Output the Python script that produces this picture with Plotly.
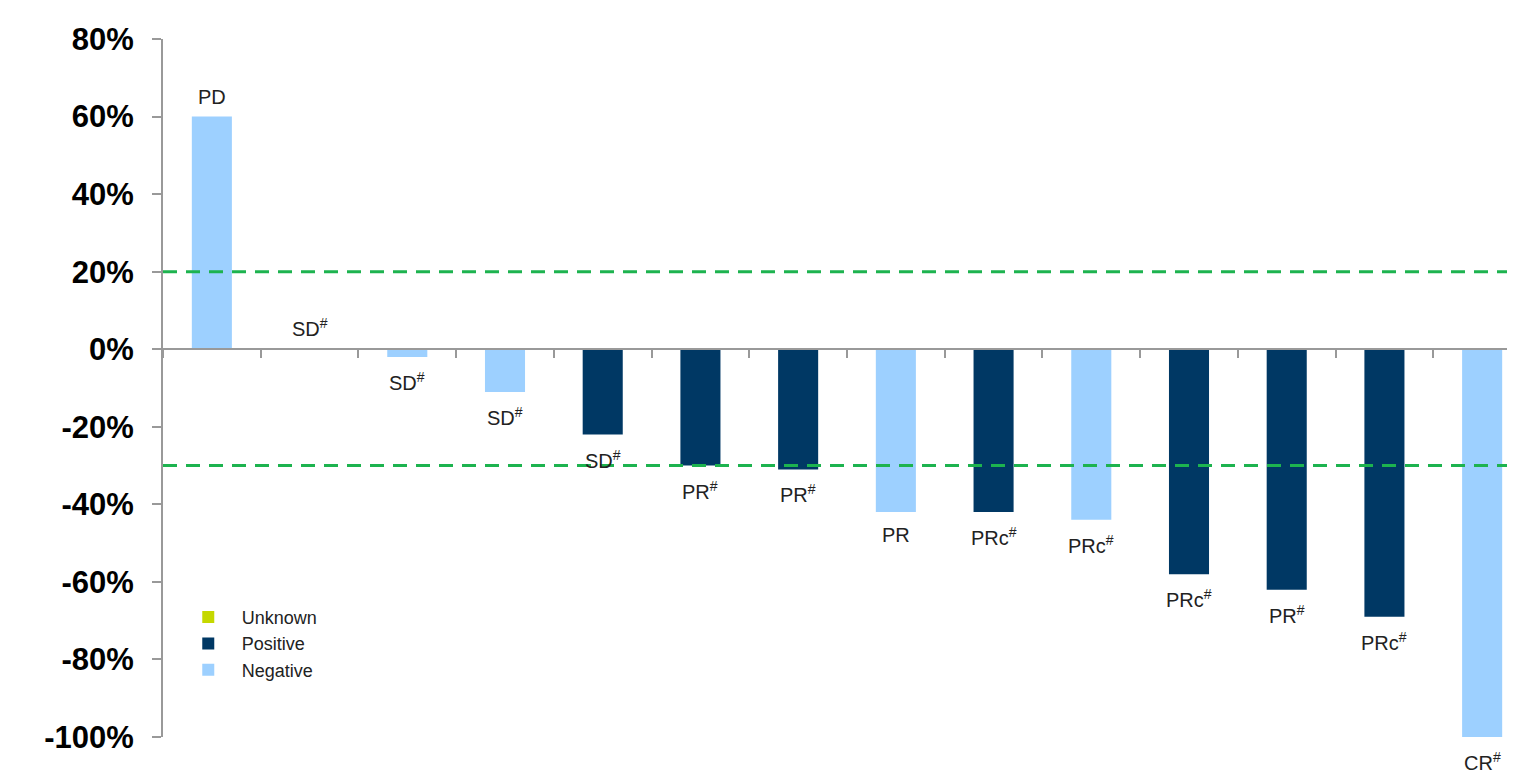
import plotly.graph_objects as go

patients = [f"P{i}" for i in range(1, 15)]
change = [60, 0, -2, -11, -22, -30, -31, -42, -42, -44, -58, -62, -69, -100]
status = ["Negative", "Unknown", "Negative", "Negative", "Positive", "Positive", "Positive",
          "Negative", "Positive", "Negative", "Positive", "Positive", "Positive", "Negative"]
response = ["PD", "SD<sup>#</sup>", "SD<sup>#</sup>", "SD<sup>#</sup>", "SD<sup>#</sup>",
            "PR<sup>#</sup>", "PR<sup>#</sup>", "PR", "PRc<sup>#</sup>", "PRc<sup>#</sup>",
            "PRc<sup>#</sup>", "PR<sup>#</sup>", "PRc<sup>#</sup>", "CR<sup>#</sup>"]
thresholds = [20, -30]
y_ticks = [-100, -80, -60, -40, -20, 0, 20, 40, 60, 80]
y_ticktext = [f"{v}%" for v in y_ticks]

colors = {"Unknown": "#C5D800", "Positive": "#003864", "Negative": "#9DD0FF"}
FONT = "Liberation Sans, Arial, sans-serif"

fig = go.Figure()
for grp in ["Unknown", "Positive", "Negative"]:
    xs = [p for p, s in zip(patients, status) if s == grp]
    ys = [v for v, s in zip(change, status) if s == grp]
    fig.add_trace(go.Bar(x=xs, y=ys, name=grp, width=0.41,
                         marker=dict(color=colors[grp], line=dict(width=0)),
                         showlegend=True))

for p, v, r in zip(patients, change, response):
    if v >= 0:
        fig.add_annotation(x=p, y=v, text=r, showarrow=False, yanchor="bottom", yshift=7,
                           font=dict(family=FONT, size=20, color="#222222"))
    else:
        fig.add_annotation(x=p, y=v, text=r, showarrow=False, yanchor="top", yshift=-10,
                           font=dict(family=FONT, size=20, color="#222222"))

for t in thresholds:
    fig.add_shape(type="line", xref="paper", x0=0, x1=1, y0=t, y1=t, yref="y",
                  line=dict(color="#1DB34F", width=3, dash="14px,9px"), layer="above")

fig.update_layout(
    width=1523, height=773,
    margin=dict(l=155, r=0, t=31, b=44, autoexpand=False),
    paper_bgcolor="white", plot_bgcolor="white",
    barmode="overlay",
    font=dict(family=FONT, color="#000000"),
    legend=dict(x=0.0086, y=0.198, xanchor="left", yanchor="top",
                font=dict(family=FONT, size=18, color="#222222"),
                bgcolor="rgba(0,0,0,0)", tracegroupgap=0, itemwidth=57),
    xaxis=dict(type="category", categoryorder="array", categoryarray=patients,
               range=[-0.5, 13.5], showticklabels=False, showgrid=False, zeroline=False,
               showline=True, linecolor="#999999", linewidth=2,
               ticks="outside", tickson="boundaries", ticklen=8, tickcolor="#999999",
               tickwidth=2, anchor="free", position=100 / 180, automargin=False),
    yaxis=dict(range=[-100, 80], tickvals=y_ticks, ticktext=y_ticktext, showgrid=False,
               zeroline=False, showline=True, linecolor="#999999", linewidth=2,
               ticks="outside", ticklen=9, tickcolor="#999999", tickwidth=2,
               ticklabelstandoff=12, automargin=False,
               tickfont=dict(family=FONT, size=31, color="#000000", weight="bold")),
)

fig.write_html("out.html")
